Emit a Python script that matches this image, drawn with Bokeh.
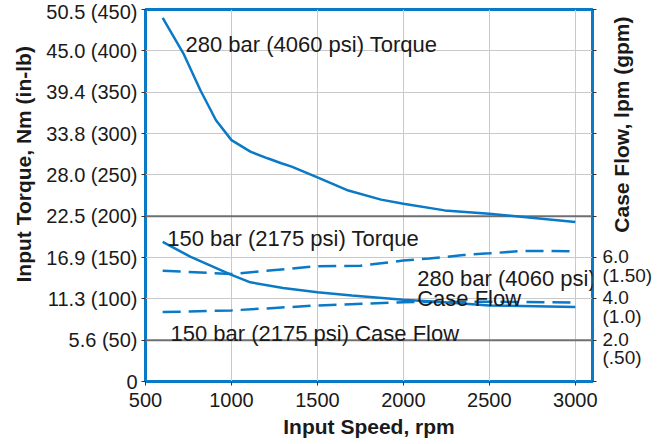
import math
from bokeh.plotting import figure
from bokeh.models import Range1d, LinearAxis, FixedTicker, Span, Title
from bokeh.core.properties import value
from bokeh.embed import file_html
from bokeh.resources import INLINE

# ---------------- data ----------------
rpm_280_torque = [600, 720, 820, 910, 1000, 1110, 1210, 1290, 1350, 1500, 1680, 1870, 2000, 2240, 2500, 3000]
torque_280_inlb = [440, 397, 352, 316, 292, 278, 270, 264, 260, 247, 231, 220, 215, 207, 203, 193]

rpm_150_torque = [600, 760, 1000, 1110, 1300, 1500, 1700, 2000, 2240, 2500, 3000]
torque_150_inlb = [169, 151, 129, 120, 113, 108, 104, 99, 96, 92, 90]

rpm_280_flow = [600, 1000, 1500, 1750, 2000, 2150, 2350, 2500, 2700, 3000]
flow_280_lpm = [5.36, 5.2, 5.58, 5.6, 5.85, 5.95, 6.12, 6.2, 6.32, 6.3]

rpm_150_flow = [600, 1000, 1250, 1500, 2000, 2500, 3000]
flow_150_lpm = [3.36, 3.44, 3.56, 3.68, 3.84, 3.86, 3.82]

x_ticks = [500, 1000, 1500, 2000, 2500, 3000]
x_tick_labels = ["500", "1000", "1500", "2000", "2500", "3000"]
y_ticks_inlb = [0, 50, 100, 150, 200, 250, 300, 350, 400, 450]
y_tick_labels = ["0", "5.6 (50)", "11.3 (100)", "16.9 (150)", "22.5 (200)",
                 "28.0 (250)", "33.8 (300)", "39.4 (350)", "45.0 (400)", "50.5 (450)"]
emphasized_levels = [50, 200]
flow_ticks_all = [0, 2, 4, 6, 8, 10, 12, 14, 16, 18]
flow_label_ticks = [6, 4, 2]
flow_label_lpm = ["6.0", "4.0", "2.0"]
flow_label_gpm = ["(1.50)", "(1.0)", "(.50)"]

x_title = "Input Speed, rpm"
y_title = "Input Torque, Nm (in-lb)"
y2_title = "Case Flow, lpm (gpm)"
notes = ["280 bar (4060 psi) Torque", "150 bar (2175 psi) Torque",
         "280 bar (4060 psi)", "Case Flow", "150 bar (2175 psi) Case Flow"]

# ---------------- layout / style ----------------
BLUE = "#0a79c6"
TXT = "#1a1a1a"
FONT = "Liberation Sans"
X0, X1 = 500, 3100
Y0, Y1 = 0, 450
F0, F1 = 0, 18
FW, FH = 447, 372
ML, MT, MR, MB = 145, 9, 66, 62
frame_left = ML
frame_bottom = MT + FH


def px_x(px):
    return X0 + (px - frame_left) * (X1 - X0) / FW


def px_y(py):
    return Y0 + (frame_bottom - py) * (Y1 - Y0) / FH


lpm_per_px = (F1 - F0) / FH
lbl_shift = 8.4 * lpm_per_px
y2_title_start = 7.2          # flow value at which the upward-reading right title starts

p = figure(frame_width=FW, frame_height=FH,
           x_range=Range1d(X0, X1), y_range=Range1d(Y0, Y1),
           output_backend="svg", toolbar_location=None,
           min_border_left=ML, min_border_right=MR,
           min_border_top=MT, min_border_bottom=MB)
p.extra_y_ranges = {"flow": Range1d(F0, F1),
                    "flow_lbl": Range1d(F0 + lbl_shift, F1 + lbl_shift)}

p.outline_line_color = BLUE
p.outline_line_width = 3
p.background_fill_color = "white"
p.border_fill_color = "white"

# grids
p.xgrid.ticker = FixedTicker(ticks=x_ticks)
p.ygrid.ticker = FixedTicker(ticks=y_ticks_inlb)
p.xgrid.grid_line_color = "#c9c9c9"
p.ygrid.grid_line_color = "#c9c9c9"
for lv in emphasized_levels:
    p.add_layout(Span(location=lv, dimension="width", line_color="#6f6f6f",
                      line_width=2, level="underlay"))

# axes
xa = p.xaxis[0]
xa.ticker = FixedTicker(ticks=x_ticks)
xa.major_label_overrides = {t: l for t, l in zip(x_ticks, x_tick_labels)}
xa.axis_label = x_title
xa.axis_label_standoff = 5
ya = p.yaxis[0]
ya.ticker = FixedTicker(ticks=y_ticks_inlb)
ya.major_label_overrides = {t: l for t, l in zip(y_ticks_inlb, y_tick_labels)}

# right side: tick marks on the flow scale
r1 = LinearAxis(y_range_name="flow", ticker=FixedTicker(ticks=flow_ticks_all))
r1.major_label_text_font_size = "1px"
r1.major_label_text_color = None
r1.major_label_standoff = 0
p.add_layout(r1, "right")

# two-line flow labels
r2 = LinearAxis(y_range_name="flow_lbl", ticker=FixedTicker(ticks=flow_label_ticks))
r2.major_label_overrides = {t: a + "\n" + b for t, a, b in
                            zip(flow_label_ticks, flow_label_lpm, flow_label_gpm)}
r2.major_tick_line_color = None
r2.major_tick_out = 0
r2.major_tick_in = 0
r2.major_label_standoff = 6
r2.major_label_text_font = FONT
r2.major_label_text_font_size = "19px"
r2.major_label_text_color = TXT
r2.major_label_text_line_height = 0.88
p.add_layout(r2, "right")

# right title: an upward-reading label pulled back over the flow-label column
r3 = LinearAxis(y_range_name="flow", ticker=FixedTicker(ticks=[y2_title_start]))
r3.major_label_overrides = {y2_title_start: y2_title}
r3.major_label_orientation = math.pi / 2
r3.major_tick_line_color = None
r3.major_tick_out = 0
r3.major_tick_in = 0
r3.major_label_standoff = -34
r3.major_label_text_font = FONT
r3.major_label_text_font_size = "21px"
r3.major_label_text_font_style = "bold"
r3.major_label_text_color = TXT
p.add_layout(r3, "right")

for ax in (xa, ya, r1, r2, r3):
    ax.axis_line_color = None
    ax.minor_tick_line_color = None
for ax in (xa, ya, r1):
    ax.major_tick_out = 4
    ax.major_tick_in = 0
    ax.major_tick_line_color = "#333333"
    ax.major_tick_line_width = 1
for ax in (xa, ya):
    ax.major_label_text_font = FONT
    ax.major_label_text_font_size = "20px"
    ax.major_label_text_color = TXT
xa.major_label_standoff = 7
ya.major_label_standoff = 4
xa.axis_label_text_font = FONT
xa.axis_label_text_font_size = "21px"
xa.axis_label_text_font_style = "bold"
xa.axis_label_text_color = TXT

p.add_layout(Title(text=y_title, align="left", offset=frame_bottom - 282, standoff=17,
                   text_font=FONT, text_font_size="21px", text_font_style="bold",
                   text_color=TXT), "left")

# curves
p.line(rpm_280_torque, torque_280_inlb, line_color=BLUE, line_width=2.5)
p.line(rpm_150_torque, torque_150_inlb, line_color=BLUE, line_width=2.5)
p.line(rpm_280_flow, flow_280_lpm, y_range_name="flow", line_color=BLUE,
       line_width=2.5, line_dash="18 8")
p.line(rpm_150_flow, flow_150_lpm, y_range_name="flow", line_color=BLUE,
       line_width=2.5, line_dash="18 8")

# in-plot notes (clipped by the frame, as in the reference)
note_px = [(185, 43.5), (166.7, 237.7), (416.7, 278.3), (416.7, 298.3), (170, 333.3)]
p.text(x=[px_x(a) for a, b in note_px], y=[px_y(b) for a, b in note_px], text=notes,
       text_font=value(FONT), text_font_size=value("22px"), text_color=TXT,
       text_align="left", text_baseline="alphabetic")

open("out.html", "w").write(file_html(p, INLINE))
